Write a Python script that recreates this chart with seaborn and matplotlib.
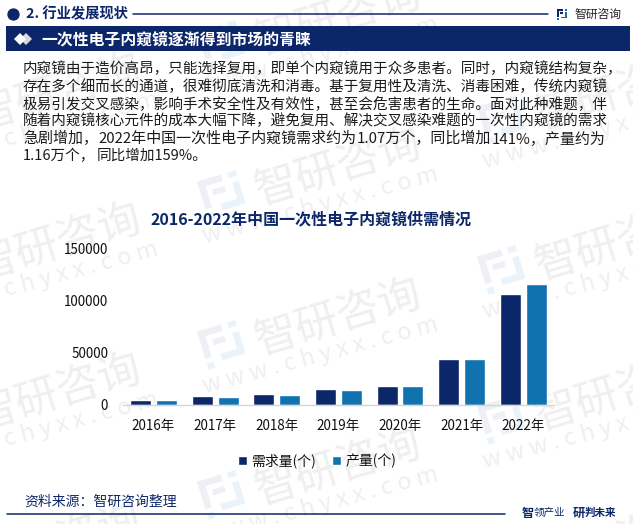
import numpy as np
import pandas as pd
import matplotlib
matplotlib.use('Agg')
import matplotlib.pyplot as plt
import seaborn as sns
from matplotlib.patches import Rectangle, Polygon
from matplotlib.transforms import Affine2D

years = ['2016年', '2017年', '2018年', '2019年', '2020年', '2021年', '2022年']
demand = [4500, 8500, 10600, 15400, 18300, 44500, 107000]
output = [4500, 7500, 9600, 14400, 18300, 44500, 116000]
y_ticks = [0, 50000, 100000, 150000]

section = '2. 行业发展现状'
heading = '一次性电子内窥镜逐渐得到市场的青睐'
chart_title = '2016-2022年中国一次性电子内窥镜供需情况'
source = '资料来源：智研咨询整理'
body_lines = [
    '内窥镜由于造价高昂，只能选择复用，即单个内窥镜用于众多患者。同时，内窥镜结构复杂，',
    '存在多个细而长的通道，很难彻底清洗和消毒。基于复用性及清洗、消毒困难，传统内窥镜',
    '极易引发交叉感染，影响手术安全性及有效性，甚至会危害患者的生命。面对此种难题，伴',
    '随着内窥镜核心元件的成本大幅下降，避免复用、解决交叉感染难题的一次性内窥镜的需求',
]
# these two lines are justified with wider gaps, so they go in pieces
line5 = [(23, '急剧增加，'), (98, '2022年中国一次性电子内窥镜需求约为'),
         (357, '1.07万个，同比增加'), (492, '141%，产量约为')]
line6 = [(23, '1.16万个，'), (97, '同比增加159%。')]

NAVY = '#0c2769'
BLUE = '#1172b0'
W, H = 633, 524

sns.set_theme(style='white')
plt.rcParams['font.family'] = ['Noto Sans CJK SC', 'DejaVu Sans']

fig = plt.figure(figsize=(W / 100, H / 100), dpi=100)

# page layer in pixel coordinates
bg = fig.add_axes([0, 0, 1, 1], zorder=0)
bg.set_xlim(0, W)
bg.set_ylim(H, 0)
bg.axis('off')


def draw_logo(cx, cy, s, angle, c1, c2, z=1):
    rot = Affine2D().rotate_deg_around(cx, cy, angle) + bg.transData
    parts = [
        (-0.5, -0.5, 0.62, 0.17, c1), (-0.5, -0.5, 0.17, 0.72, c1),
        (-0.5, 0.33, 0.17, 0.17, c2), (-0.2, -0.2, 0.32, 0.15, c1),
        (0.28, -0.5, 0.22, 0.15, c2), (0.33, -0.22, 0.17, 0.42, c2),
        (-0.1, 0.2, 0.6, 0.17, c2),
    ]
    for x0, y0, w, h, c in parts:
        bg.add_patch(Rectangle((cx + x0 * s, cy + y0 * s), w * s, h * s,
                               facecolor=c, edgecolor='none', transform=rot, zorder=z))


def draw_watermark(cx, cy):
    bg.text(cx, cy, '智研咨询', fontsize=31, color='#efeff0', rotation=17,
            ha='center', va='center', rotation_mode='anchor', zorder=1)
    bg.text(cx - 18, cy + 37, 'w w w . c h y x x . c o m', fontsize=17, color='#efeff0',
            rotation=15, ha='center', va='center', rotation_mode='anchor', zorder=1)
    draw_logo(cx - 116, cy + 27, 40, -17, '#eef0f6', '#ebf3fa')


for cy in [18, 168, 318, 468]:
    draw_watermark(338, cy)
for cx in [58, 618]:
    for cy in [93, 243, 393, 543]:
        draw_watermark(cx, cy)

# header
bg.scatter([13], [14], s=62, color=NAVY, zorder=3)
bg.text(26, 14, section, fontsize=10.3, fontweight='bold', color=NAVY, va='center', zorder=3)
bg.plot([133, 548], [14, 14], color=NAVY, lw=1.1, zorder=3)
draw_logo(562, 14.5, 10.5, 0, NAVY, BLUE, z=3)
bg.text(574, 14, '智研咨询', fontsize=8.5, color='#222222', va='center', zorder=3)

bg.add_patch(Rectangle((6, 26), 624, 25, facecolor=NAVY, edgecolor='none', zorder=3))
for x0, c in [(26, '#d9d9d9'), (20, '#ffffff')]:
    bg.add_patch(Polygon([(x0 - 6, 39), (x0, 33), (x0 + 6, 39), (x0, 45)],
                         facecolor=c, edgecolor='none', zorder=4))
bg.text(41, 39, heading, fontsize=11.4, fontweight='bold', color='white', va='center', zorder=4)

# body text
for i, line in enumerate(body_lines):
    bg.text(23, 69 + i * 17.4, line, fontsize=10.5, color='#1a1a1a', va='center', zorder=3)
for x0, piece in line5:
    bg.text(x0, 138.6, piece, fontsize=10.8, color='#1a1a1a', va='center', zorder=3)
for x0, piece in line6:
    bg.text(x0, 156, piece, fontsize=10.5, color='#1a1a1a', va='center', zorder=3)

bg.text(311, 219, chart_title, fontsize=11.5, fontweight='bold', color=NAVY,
        ha='center', va='center', zorder=3)

# footer
bg.text(24, 502, source, fontsize=10, color=NAVY, va='center', zorder=3)
bg.plot([7, 505], [514, 514], color=NAVY, lw=1.1, zorder=3)
bg.text(522, 513, '智', fontsize=8.8, fontweight='bold', color=NAVY, va='center', zorder=3)
bg.text(534, 513, '领产业', fontsize=7.6, color=NAVY, va='center', zorder=3)
bg.text(573, 513, '研', fontsize=8.8, fontweight='bold', color=NAVY, va='center', zorder=3)
bg.text(585, 513, '判未来', fontsize=7.6, fontweight='bold', color=NAVY, va='center', zorder=3)

# chart
df = pd.DataFrame({
    'year': years * 2,
    'value': demand + output,
    'series': ['需求量(个)'] * len(years) + ['产量(个)'] * len(years),
})

ax = fig.add_axes([122.7 / W, 1 - 405 / H, (554 - 122.7) / W, (405 - 249) / H], zorder=2)
ax.patch.set_alpha(0)
sns.barplot(data=df, x='year', y='value', hue='series', palette=[NAVY, BLUE],
            width=0.84, gap=0.19, saturation=1, ax=ax)
ax.set_xlim(-0.5, 6.5)
ax.set_ylim(0, 150000)
ax.set_yticks(y_ticks)
ax.set_yticklabels([str(v) for v in y_ticks])
ax.set_xlabel('')
ax.set_ylabel('')
ax.tick_params(axis='both', length=0, labelsize=9.7, labelcolor='#111111')
ax.tick_params(axis='x', pad=10)
ax.tick_params(axis='y', pad=10.5)
sns.despine(ax=ax, left=True)
ax.spines['bottom'].set_color('#d4d4da')
ax.spines['bottom'].set_linewidth(1)

ax.legend(loc='center', bbox_to_anchor=(317 / W, 1 - 461 / H), bbox_transform=fig.transFigure,
          ncol=2, frameon=False, fontsize=10, handlelength=0.68, handleheight=0.68,
          handletextpad=0.3, columnspacing=1.15, borderpad=0, labelcolor='#111111')

fig.savefig('out.png', dpi=100)
